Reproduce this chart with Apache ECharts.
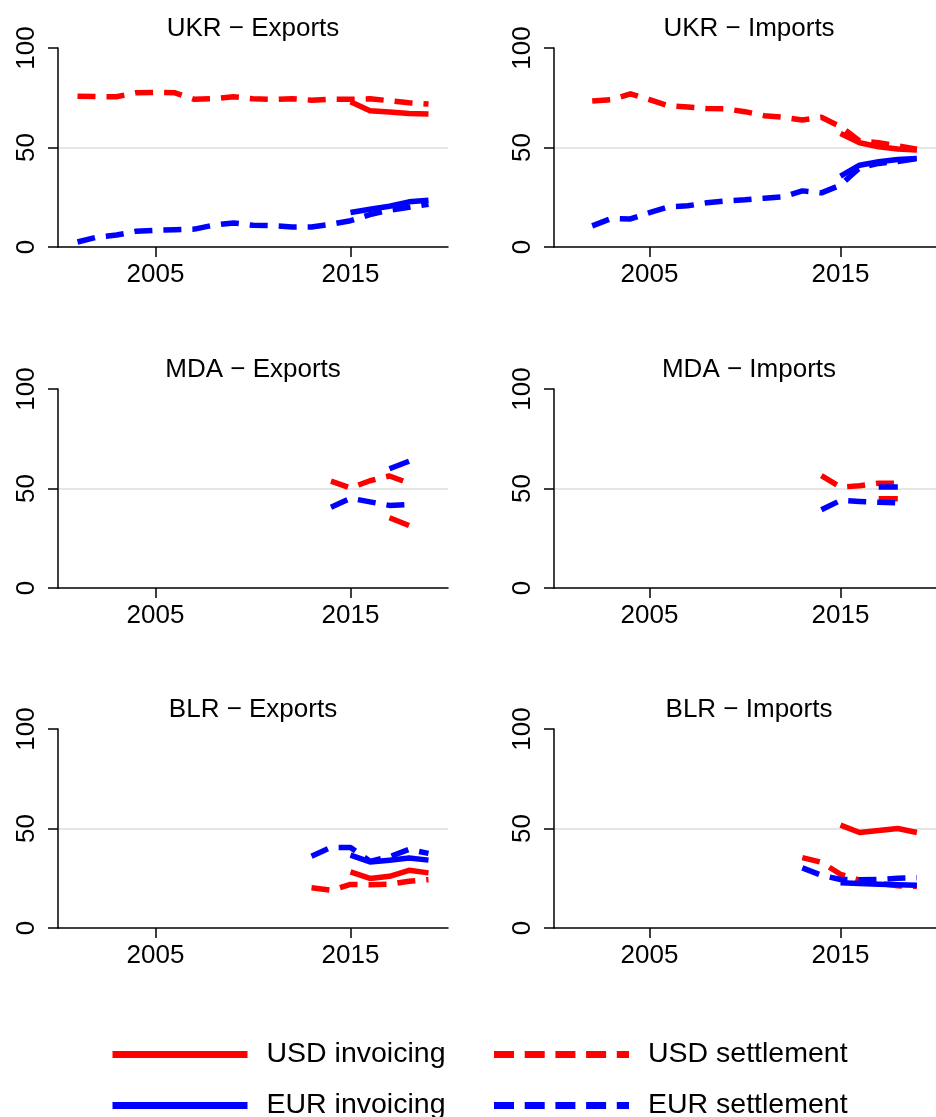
<!DOCTYPE html>
<html><head><meta charset="utf-8">
<script src="https://cdn.jsdelivr.net/npm/echarts@6/dist/echarts.min.js"></script>
<style>html,body{margin:0;padding:0;background:#fff}#c{width:936px;height:1117px}</style>
</head><body><div id="c"></div>
<script>
const N = null;
const years = [2001,2002,2003,2004,2005,2006,2007,2008,2009,2010,2011,2012,2013,2014,2015,2016,2017,2018,2019];
const xTicks = [2005, 2015];
const yTicks = [0, 50, 100];
const seriesNames = ['USD invoicing','USD settlement','EUR invoicing','EUR settlement'];
const panelTitles = ['UKR \u2212 Exports','UKR \u2212 Imports','MDA \u2212 Exports','MDA \u2212 Imports','BLR \u2212 Exports','BLR \u2212 Imports'];

// UKR Exports
const ukrExpUsdInv = [N,N,N,N,N,N,N,N,N,N,N,N,N,N,73.0,68.5,67.8,67.1,66.8];
const ukrExpUsdSet = [75.8,75.6,75.5,77.5,77.7,77.5,74.2,74.5,75.5,74.5,74.2,74.5,73.8,74.3,74.2,74.5,73.5,72.5,71.8];
const ukrExpEurInv = [N,N,N,N,N,N,N,N,N,N,N,N,N,N,17.3,19.0,20.5,22.7,23.5];
const ukrExpEurSet = [2.5,5.0,6.0,7.9,8.4,8.7,9.0,11.0,12.1,10.9,10.7,10.1,10.1,11.4,13.2,16.3,18.5,20.0,21.5];
// UKR Imports
const ukrImpUsdInv = [N,N,N,N,N,N,N,N,N,N,N,N,N,N,57.0,52.4,50.4,49.2,48.7];
const ukrImpUsdSet = [N,73.4,74.0,77.0,74.0,71.0,70.3,69.6,69.4,68.0,66.0,65.2,63.8,65.2,60.5,53.3,52.4,50.9,49.2];
const ukrImpEurInv = [N,N,N,N,N,N,N,N,N,N,N,N,N,N,35.6,41.1,42.8,44.0,44.5];
const ukrImpEurSet = [N,10.6,14.3,14.1,17.3,20.2,20.7,22.2,23.2,23.7,24.5,25.2,28.2,27.2,31.1,39.8,42.0,43.0,44.5];
// MDA Exports
const mdaExpUsdInv = [N,N,N,N,N,N,N,N,N,N,N,N,N,N,N,N,35.3,31.4,N];
const mdaExpUsdSet = [N,N,N,N,N,N,N,N,N,N,N,N,N,53.7,50.3,53.9,56.3,52.7,N];
const mdaExpEurInv = [N,N,N,N,N,N,N,N,N,N,N,N,N,N,N,N,59.9,63.7,N];
const mdaExpEurSet = [N,N,N,N,N,N,N,N,N,N,N,N,N,40.6,45.1,43.3,41.5,42.0,N];
// MDA Imports
const mdaImpUsdInv = [N,N,N,N,N,N,N,N,N,N,N,N,N,N,N,N,44.8,44.8,N];
const mdaImpUsdSet = [N,N,N,N,N,N,N,N,N,N,N,N,N,56.5,50.7,51.4,52.7,52.7,N];
const mdaImpEurInv = [N,N,N,N,N,N,N,N,N,N,N,N,N,N,N,N,50.7,50.7,N];
const mdaImpEurSet = [N,N,N,N,N,N,N,N,N,N,N,N,N,39.3,44.0,43.5,43.1,42.8,N];
// BLR Exports
const blrExpUsdInv = [N,N,N,N,N,N,N,N,N,N,N,N,N,N,28.2,24.9,26.0,29.0,27.7];
const blrExpUsdSet = [N,N,N,N,N,N,N,N,N,N,N,N,20.2,19.0,21.9,21.7,22.0,23.5,24.3];
const blrExpEurInv = [N,N,N,N,N,N,N,N,N,N,N,N,N,N,36.6,33.2,34.1,35.2,34.1];
const blrExpEurSet = [N,N,N,N,N,N,N,N,N,N,N,N,36.1,40.5,40.5,33.5,35.8,39.5,37.5];
// BLR Imports
const blrImpUsdInv = [N,N,N,N,N,N,N,N,N,N,N,N,N,N,51.7,48.0,49.0,50.0,48.0];
const blrImpUsdSet = [N,N,N,N,N,N,N,N,N,N,N,N,35.4,33.0,27.0,24.0,22.4,21.2,21.0];
const blrImpEurInv = [N,N,N,N,N,N,N,N,N,N,N,N,N,N,22.7,22.4,22.0,21.7,21.5];
const blrImpEurSet = [N,N,N,N,N,N,N,N,N,N,N,N,30.2,26.5,24.4,24.2,24.4,25.0,25.3];

const panelData = [
  [ukrExpUsdInv, ukrExpUsdSet, ukrExpEurInv, ukrExpEurSet],
  [ukrImpUsdInv, ukrImpUsdSet, ukrImpEurInv, ukrImpEurSet],
  [mdaExpUsdInv, mdaExpUsdSet, mdaExpEurInv, mdaExpEurSet],
  [mdaImpUsdInv, mdaImpUsdSet, mdaImpEurInv, mdaImpEurSet],
  [blrExpUsdInv, blrExpUsdSet, blrExpEurInv, blrExpEurSet],
  [blrImpUsdInv, blrImpUsdSet, blrImpEurInv, blrImpEurSet]
];

const F = '"Liberation Sans", Arial, Helvetica, sans-serif';
const RED = '#ff0000', BLUE = '#0000ff';
const DASH = [18, 11];
const styles = [
  {color: RED, type: 'solid'},
  {color: RED, type: DASH},
  {color: BLUE, type: 'solid'},
  {color: BLUE, type: DASH}
];
const colLeft = [58, 554];
const rowTop = [48, 389, 729];
const GW = 390, GH = 199;
const titleTop = [15.5, 356.5, 696.5];

const grids = [], xAxes = [], yAxes = [], series = [], titles = [];
for (let p = 0; p < 6; p++) {
  const r = Math.floor(p / 2), c = p % 2;
  grids.push({left: colLeft[c], top: rowTop[r], width: GW, height: GH, containLabel: false});
  titles.push({text: panelTitles[p], left: colLeft[c] + GW / 2, top: titleTop[r], padding: 0, textAlign: 'center',
    textStyle: {fontFamily: F, fontSize: 26, fontWeight: 'normal', color: '#000'}});
  xAxes.push({type: 'value', gridIndex: p, min: 2000, max: 2020,
    axisLine: {show: true, lineStyle: {color: '#000', width: 1.5}},
    axisTick: {show: true, length: 10, customValues: xTicks, lineStyle: {color: '#000', width: 1.5}},
    axisLabel: {customValues: xTicks, formatter: v => String(v), fontFamily: F, fontSize: 26, color: '#000', margin: 14.5},
    splitLine: {show: false}});
  yAxes.push({type: 'value', gridIndex: p, min: 0, max: 100, interval: 50,
    axisLine: {show: true, lineStyle: {color: '#000', width: 1.5}},
    axisTick: {show: true, length: 10, lineStyle: {color: '#000', width: 1.5}},
    axisLabel: {rotate: 90, formatter: v => String(v), fontFamily: F, fontSize: 26, color: '#000', margin: 18},
    splitLine: {show: true, showMinLine: false, showMaxLine: false, lineStyle: {color: '#e6e6e6', width: 2}}});
  for (let s = 0; s < 4; s++) {
    const vals = panelData[p][s];
    series.push({type: 'line', name: seriesNames[s], xAxisIndex: p, yAxisIndex: p,
      data: years.map((y, i) => [y, vals[i]]),
      symbol: 'none', showSymbol: false, connectNulls: false, silent: true, animation: false,
      z: 2 + s,
      lineStyle: {color: styles[s].color, type: styles[s].type, width: 5.5, cap: 'butt', join: 'round'},
      itemStyle: {color: styles[s].color}});
  }
}

const legendCommon = {type: 'plain', orient: 'vertical', top: 1040, height: 120, width: 400, padding: 0,
  itemWidth: 135, itemHeight: 28, itemGap: 22,
  selectedMode: false,
  itemStyle: {opacity: 0, color: 'rgba(0,0,0,0)', borderWidth: 0},
  textStyle: {fontFamily: F, fontSize: 28.5, color: '#000', padding: [0, 0, 0, 14]},
  lineStyle: {width: 7}};
const legendDash = [20, 10.7];

const chart = echarts.init(document.getElementById('c'), null, {renderer: 'canvas'});
chart.setOption({
  backgroundColor: '#fff',
  animation: false,
  title: titles,
  grid: grids,
  xAxis: xAxes,
  yAxis: yAxes,
  legend: [
    Object.assign({}, legendCommon, {left: 109, data: [
      {name: 'USD invoicing', lineStyle: {width: 7, type: 'solid'}},
      {name: 'EUR invoicing', lineStyle: {width: 7, type: 'solid'}}]}),
    Object.assign({}, legendCommon, {left: 490.5, data: [
      {name: 'USD settlement', lineStyle: {width: 7, type: legendDash}},
      {name: 'EUR settlement', lineStyle: {width: 7, type: legendDash}}]})
  ],
  series: series
});
</script></body></html>
